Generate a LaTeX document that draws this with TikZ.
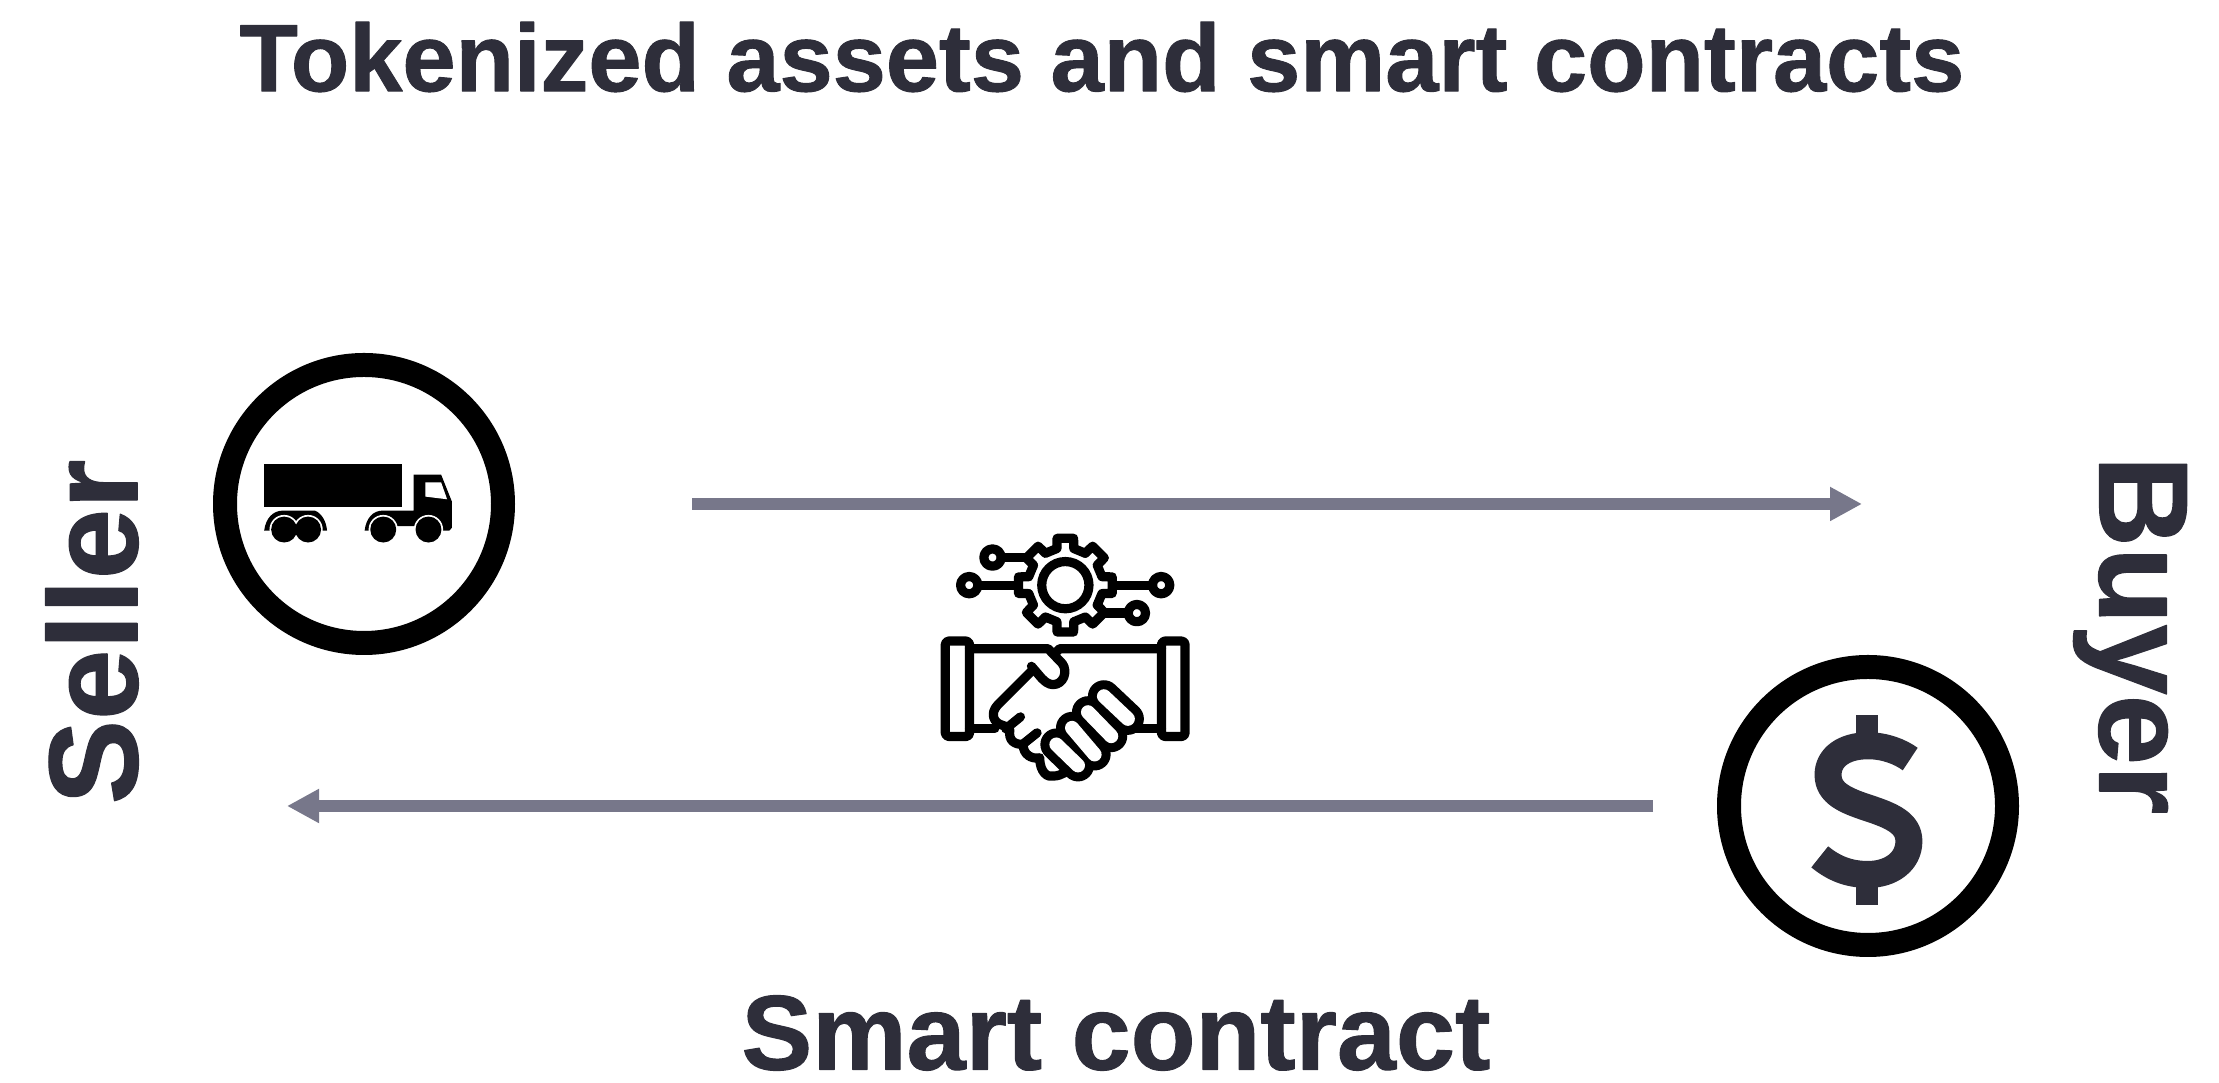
\documentclass[tikz,border=0pt]{standalone}
\usepackage{fontspec}
\setmainfont{Liberation Sans}[BoldFeatures={FakeBold=1}]
\usepackage{tikz}
\usetikzlibrary{positioning, arrows.meta}
\definecolor{inkdark}{HTML}{2E2E3A}
\definecolor{arrowgrey}{HTML}{77778A}

\begin{document}
\begin{tikzpicture}[on grid,line join=round]
	\useasboundingbox (0,0) rectangle (22.19,10.83);

	\tikzstyle{heading}=[font=\bfseries\fontsize{27.2}{30}\selectfont,text=inkdark,inner sep=0pt]
	\tikzstyle{caption}=[font=\bfseries\fontsize{30.2}{33}\selectfont,text=inkdark,inner sep=0pt]
	\tikzstyle{party}=[font=\bfseries\fontsize{36}{40}\selectfont,text=inkdark,inner sep=0pt]
	\tikzstyle{coin}=[circle,draw=black,line width=0.24cm,fill=white,minimum size=2.78cm,outer sep=0pt,inner sep=0pt]
	\tikzstyle{flow}=[-{Triangle[length=0.32cm,width=0.32cm]},draw=arrowgrey,line width=0.125cm]
	\tikzstyle{icon}=[x=0.0033333cm,y=-0.0033333cm]
	\tikzstyle{hand}=[draw=black,line width=0.092cm,line cap=round]

	\node[coin] (Sell) at (3.64,5.79) {};
	\node[coin] (Buy) [below right=3.02 and 15.04 of Sell] {};

	\node[heading] (Title) at (11.02,10.26) {Tokenized assets and smart contracts};
	\node[caption] (Contract) at (11.16,0.50) {Smart contract};
	\node[party,rotate=90] (SellLabel) [below left=1.28 and 2.72 of Sell] {Seller};
	\node[party,rotate=-90] (BuyLabel) [above right=1.71 and 2.62 of Buy] {Buyer};

	\coordinate[right=3.28 of Sell] (GoodsStart);
	\coordinate[right=14.98 of Sell] (GoodsEnd);
	\coordinate[left=2.15 of Buy] (PayStart);
	\coordinate[left=15.81 of Buy] (PayEnd);
	\draw[flow] (GoodsStart) -- (GoodsEnd);
	\draw[flow] (PayStart) -- (PayEnd);

	% truck
	\begin{scope}[shift={(1.90cm,7.53cm)},icon]
		\fill (223,403) rectangle (637,533);
		\fill (672,435) -- (755,435) -- (787,515) -- (787,595) -- (780,603) -- (755,603) -- (755,590) -- (620,590) -- (620,603)
			-- (525,603) .. controls (530,565) and (550,543) .. (580,543) -- (672,543) -- cycle;
		\fill (223,603) .. controls (228,565) and (250,543) .. (280,543) -- (375,543) .. controls (395,550) and (410,575) .. (412,603) -- cycle;
		\fill[white] (708,458) -- (755,458) -- (773,509) -- (708,501) -- cycle;
		\foreach \wheel in {283,355,581,717} \fill[white] (\wheel,600) circle[radius=44];
		\foreach \wheel in {283,355,581,717} \fill (\wheel,600) circle[radius=39];
	\end{scope}

	% dollar
	\begin{scope}[shift={(17.00cm,4.43cm)},icon]
		\fill[inkdark] (470,225) rectangle (535,300);
		\fill[inkdark] (470,725) rectangle (535,797);
		\draw[inkdark,line width=0.27cm] (632,358) .. controls (600,335) and (555,318) .. (505,318)
			.. controls (430,318) and (385,355) .. (385,405) .. controls (385,460) and (435,482) .. (505,505)
			.. controls (575,528) and (628,550) .. (628,605) .. controls (628,665) and (575,705) .. (505,705)
			.. controls (445,705) and (400,685) .. (360,652);
	\end{scope}

	% gear and handshake
	\begin{scope}[shift={(9.20cm,5.73cm)},icon]
		\draw[hand] (437,226) circle[radius=71];
		\foreach \a in {0,45,...,315}
			\draw[hand] ([shift={(\a-13:113)}]437,226) -- ([shift={(\a-10:143)}]437,226) -- ([shift={(\a+10:143)}]437,226) -- ([shift={(\a+13:113)}]437,226) -- ([shift={(\a+32:113)}]437,226);
		\foreach \px/\py in {218/143,148/226,725/226,652/310}
			\draw[hand] (\px,\py) circle[radius=26];
		\draw[hand] (244,143) -- (325,143);
		\draw[hand] (174,226) -- (290,226);
		\draw[hand] (585,226) -- (699,226);
		\draw[hand] (555,310) -- (626,310);

		\draw[hand,rounded corners=1pt] (76,394) rectangle (149,681);
		\draw[hand,rounded corners=1pt] (726,394) rectangle (797,681);
		\draw[hand] (149,417) -- (385,417) -- (428,462) .. controls (445,485) and (432,525) .. (400,525)
			.. controls (385,525) and (375,515) .. (365,505) -- (335,470);
		\draw[hand] (726,417) -- (420,417) -- (405,432);
		\draw[hand] (149,657) -- (225,657);
		\draw[hand] (640,657) -- (726,657);
		\draw[hand] (338,482) -- (232,588) .. controls (212,610) and (218,640) .. (250,648)
			.. controls (262,652) and (268,655) .. (270,660) .. controls (265,695) and (285,705) .. (310,705)
			.. controls (310,735) and (335,750) .. (360,745) .. controls (360,790) and (385,805) .. (400,800)
			.. controls (415,800) and (425,795) .. (435,790);
		\draw[hand] (258,658) -- (302,622);
		\draw[hand] (312,702) -- (352,670);
		\foreach \sx/\sy/\ex/\ey in {553/560/625/628,505/608/575/680,457/655/525/735,410/705/475/768}
			\draw[black,line width=0.32cm,line cap=round] (\sx,\sy) -- (\ex,\ey);
		\foreach \sx/\sy/\ex/\ey in {553/560/625/628,505/608/575/680,457/655/525/735,410/705/475/768}
			\draw[white,line width=0.14cm,line cap=round] (\sx,\sy) -- (\ex,\ey);
	\end{scope}
\end{tikzpicture}
\end{document}
